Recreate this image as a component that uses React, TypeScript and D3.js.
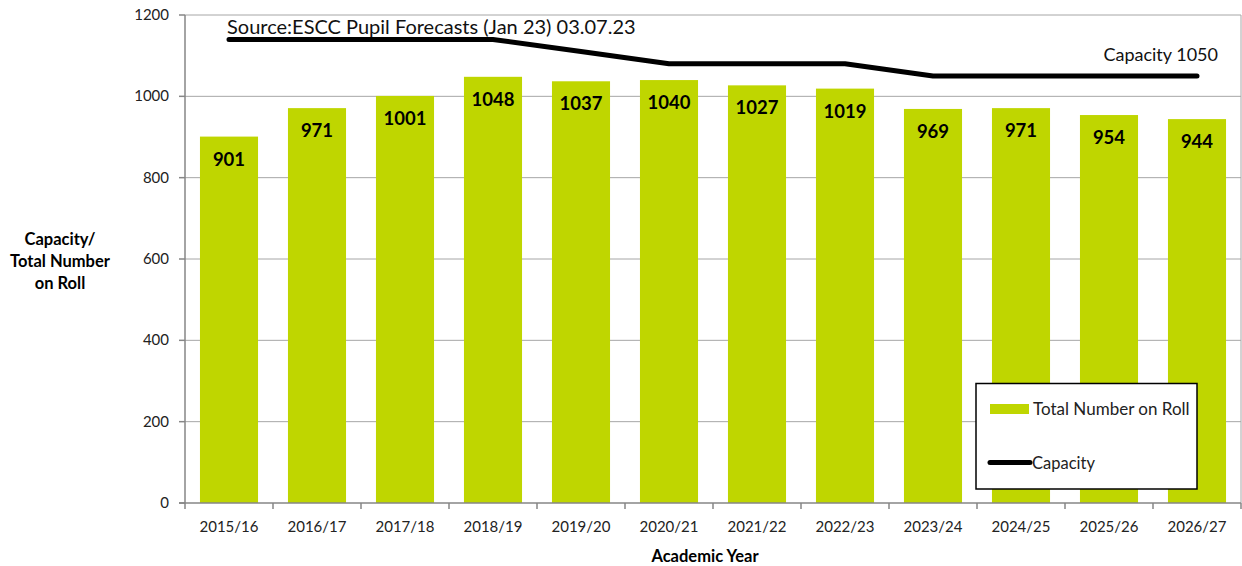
import React from "react";
import * as d3 from "d3";

const categories = ["2015/16","2016/17","2017/18","2018/19","2019/20","2020/21","2021/22","2022/23","2023/24","2024/25","2025/26","2026/27"];
const rollValues = [901, 971, 1001, 1048, 1037, 1040, 1027, 1019, 969, 971, 954, 944];
const capacityValues = [1140, 1140, 1140, 1140, 1110, 1080, 1080, 1080, 1050, 1050, 1050, 1050];
const yTicks = [0, 200, 400, 600, 800, 1000, 1200];

const W = 1242, H = 566;
const left = 185, right = 1241, top = 15, bottom = 503;
const font = "Lato, 'Open Sans', sans-serif";
const barColor = "#bfd600";

export default function App() {
  const x = d3.scaleBand<string>().domain(categories).range([left, right]).paddingInner(0.34).paddingOuter(0.17);
  const xb = d3.scaleBand<string>().domain(categories).range([left, right]);
  const y = d3.scaleLinear().domain([0, 1200]).range([bottom, top]);
  const line = d3.line<number>()
    .x((_, i) => (xb(categories[i]) as number) + xb.bandwidth() / 2)
    .y((d) => y(d));

  return (
    <svg width={W} height={H} style={{ position: "absolute", left: 0, top: 0, background: "#fff" }}>
      <rect x={0} y={0} width={W} height={H} fill="#fff" />
      {/* gridlines */}
      {yTicks.filter(t => t > 0).map(t => (
        <line key={t} x1={left} x2={right} y1={y(t)} y2={y(t)} stroke="#a6a6a6" strokeWidth={1} />
      ))}
      <line x1={right} x2={right} y1={top} y2={bottom} stroke="#a6a6a6" strokeWidth={1} />
      {/* bars */}
      {rollValues.map((v, i) => (
        <rect key={i} x={x(categories[i])} y={y(v)} width={x.bandwidth()} height={bottom - y(v)} fill={barColor} />
      ))}
      {/* bar labels */}
      {rollValues.map((v, i) => (
        <text key={i} x={(x(categories[i]) as number) + x.bandwidth() / 2} y={y(v) + 29} textAnchor="middle"
          fontFamily={font} fontWeight="bold" fontSize={18.5} fill="#000">{v}</text>
      ))}
      {/* axes */}
      <line x1={left} x2={left} y1={top} y2={bottom} stroke="#868686" strokeWidth={1.5} />
      <line x1={left - 6} x2={right} y1={bottom} y2={bottom} stroke="#868686" strokeWidth={1.5} />
      {yTicks.map(t => (
        <g key={t}>
          <line x1={left - 6} x2={left} y1={y(t)} y2={y(t)} stroke="#868686" strokeWidth={1.5} />
          <text x={left - 16} y={y(t) + 5} textAnchor="end" fontFamily={font} fontSize={15} fill="#222">{t}</text>
        </g>
      ))}
      {categories.map((c, i) => (
        <g key={c}>
          <line x1={xb(c) as number} x2={xb(c) as number} y1={bottom} y2={bottom + 6} stroke="#868686" strokeWidth={1.5} />
          <text x={(xb(c) as number) + xb.bandwidth() / 2} y={bottom + 29} textAnchor="middle" fontFamily={font} fontSize={15} fill="#222">{c}</text>
        </g>
      ))}
      <line x1={right} x2={right} y1={bottom} y2={bottom + 6} stroke="#868686" strokeWidth={1.5} />
      {/* capacity line */}
      <path d={line(capacityValues) || ""} fill="none" stroke="#000" strokeWidth={5} strokeLinecap="round" strokeLinejoin="round" />
      {/* annotations */}
      <text x={227} y={34} fontFamily={font} fontSize={20} fill="#111">Source:ESCC Pupil Forecasts (Jan 23) 03.07.23</text>
      <text x={1218} y={61} textAnchor="end" fontFamily={font} fontSize={18} fill="#111">Capacity 1050</text>
      {/* axis titles */}
      <text fontFamily={font} fontWeight="bold" fontSize={16.5} fill="#000" textAnchor="middle">
        <tspan x={60} y={245}>Capacity/</tspan>
        <tspan x={60} y={267}>Total Number</tspan>
        <tspan x={60} y={289}>on Roll</tspan>
      </text>
      <text x={705} y={562} textAnchor="middle" fontFamily={font} fontWeight="bold" fontSize={16.5} fill="#000">Academic Year</text>
      {/* legend */}
      <rect x={976} y={383.5} width={221} height={105.5} fill="#fff" stroke="#000" strokeWidth={1.5} />
      <rect x={990} y={404} width={39} height={10} fill={barColor} />
      <text x={1033} y={415} fontFamily={font} fontSize={17} fill="#222">Total Number on Roll</text>
      <line x1={990} x2={1030} y1={462.5} y2={462.5} stroke="#000" strokeWidth={5} strokeLinecap="round" />
      <text x={1032} y={469} fontFamily={font} fontSize={16.5} fill="#222">Capacity</text>
    </svg>
  );
}
